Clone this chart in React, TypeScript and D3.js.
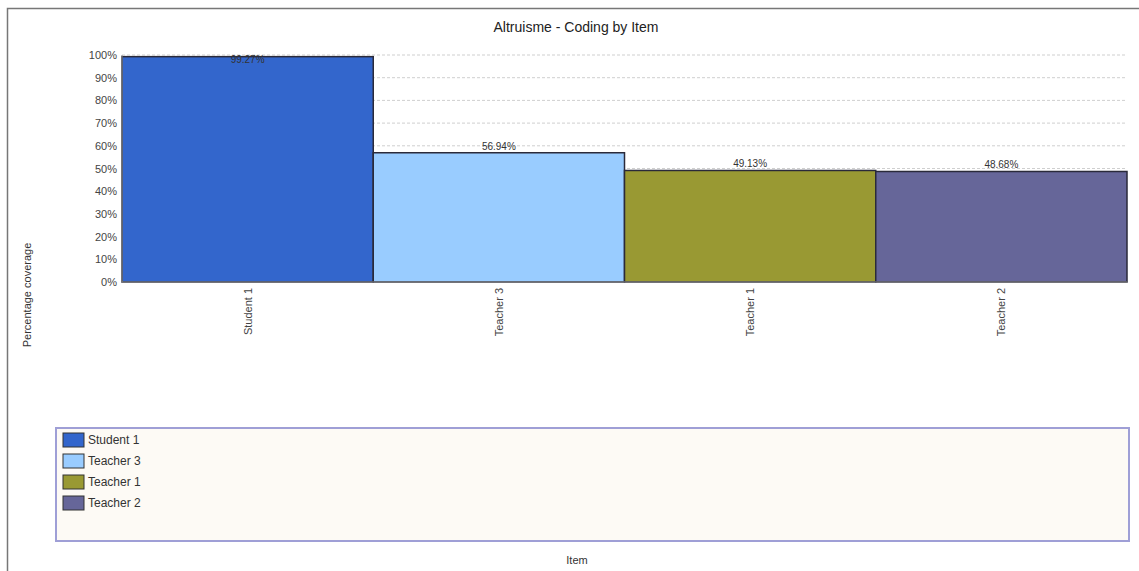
import React, { useEffect, useRef } from 'react';
import * as d3 from 'd3';

const items = ['Student 1', 'Teacher 3', 'Teacher 1', 'Teacher 2'];
const coverage = [99.27, 56.94, 49.13, 48.68];
const colors = ['#3366cc', '#99ccff', '#999933', '#666699'];
const yTicks = [0, 10, 20, 30, 40, 50, 60, 70, 80, 90, 100];

const W = 1139;
const H = 571;

export default function App() {
  const svgRef = useRef<SVGSVGElement>(null);

  useEffect(() => {
    if (!svgRef.current) return;
    const svg = d3.select(svgRef.current);
    svg.selectAll('*').remove();
    const font = 'Arial, "Liberation Sans", sans-serif';

    // outer frame
    svg.append('rect').attr('x', 7.5).attr('y', 8.5).attr('width', W + 10).attr('height', H + 10)
      .attr('fill', '#fff').attr('stroke', '#777').attr('stroke-width', 1.5);

    const left = 122, right = 1127, top = 55, bottom = 282;
    const x = d3.scaleBand<string>().domain(items).range([left, right]).padding(0);
    const y = d3.scaleLinear().domain([0, 100]).range([bottom, top]);

    svg.append('text').attr('x', 576).attr('y', 32).attr('text-anchor', 'middle')
      .attr('font-family', font).attr('font-size', 14).attr('fill', '#222')
      .text('Altruisme - Coding by Item');

    // grid
    svg.append('g').selectAll('line').data(yTicks.filter(t => t > 0)).enter().append('line')
      .attr('x1', left).attr('x2', right).attr('y1', d => y(d)).attr('y2', d => y(d))
      .attr('stroke', '#cfcfcf').attr('stroke-dasharray', '3,2');

    // y tick labels
    svg.append('g').selectAll('text').data(yTicks).enter().append('text')
      .attr('x', 117).attr('y', d => y(d) + 4).attr('text-anchor', 'end')
      .attr('font-family', font).attr('font-size', 11).attr('fill', '#444')
      .text(d => `${d}%`);

    // bars
    svg.append('g').selectAll('rect').data(items).enter().append('rect')
      .attr('x', d => x(d)!).attr('y', (d, i) => y(coverage[i]))
      .attr('width', x.bandwidth()).attr('height', (d, i) => bottom - y(coverage[i]))
      .attr('fill', (d, i) => colors[i]).attr('stroke', '#2a2a3a').attr('stroke-width', 1.5);

    // axes lines
    svg.append('line').attr('x1', left).attr('x2', left).attr('y1', top).attr('y2', bottom)
      .attr('stroke', '#888');
    svg.append('line').attr('x1', left).attr('x2', right).attr('y1', bottom).attr('y2', bottom)
      .attr('stroke', '#888');

    // value labels
    svg.append('g').selectAll('text').data(items).enter().append('text')
      .attr('x', d => x(d)! + x.bandwidth() / 2)
      .attr('y', (d, i) => Math.max(y(coverage[i]) - 3, top + 8))
      .attr('text-anchor', 'middle').attr('font-family', font).attr('font-size', 10)
      .attr('fill', '#333')
      .text((d, i) => `${coverage[i].toFixed(2)}%`);

    // x labels
    svg.append('g').selectAll('text').data(items).enter().append('text')
      .attr('transform', d => `translate(${x(d)! + x.bandwidth() / 2 + 4},${bottom + 6}) rotate(-90)`)
      .attr('text-anchor', 'end').attr('font-family', font).attr('font-size', 11).attr('fill', '#444')
      .text(d => d);

    svg.append('text').attr('transform', 'translate(31,295) rotate(-90)').attr('text-anchor', 'middle')
      .attr('font-family', font).attr('font-size', 11).attr('fill', '#333').text('Percentage coverage');

    // legend
    svg.append('rect').attr('x', 56).attr('y', 428).attr('width', 1073).attr('height', 113)
      .attr('fill', '#fdfaf5').attr('stroke', '#9f9fd6').attr('stroke-width', 2);
    const lg = svg.append('g').selectAll('g').data(items).enter().append('g')
      .attr('transform', (d, i) => `translate(63,${433 + i * 21})`);
    lg.append('rect').attr('width', 21).attr('height', 14).attr('fill', (d, i) => colors[i])
      .attr('stroke', '#333').attr('stroke-width', 1);
    lg.append('text').attr('x', 25).attr('y', 11).attr('font-family', font).attr('font-size', 12)
      .attr('fill', '#333').text(d => d);

    svg.append('text').attr('x', 577).attr('y', 564).attr('text-anchor', 'middle')
      .attr('font-family', font).attr('font-size', 11).attr('fill', '#333').text('Item');
  }, []);

  return (
    <div style={{ position: 'absolute', left: 0, top: 0 }}>
      <svg ref={svgRef} width={W} height={H} style={{ display: 'block' }} />
    </div>
  );
}
